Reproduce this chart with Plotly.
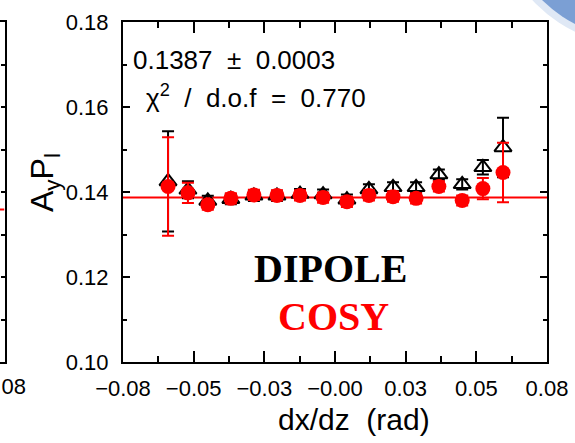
import numpy as np
import plotly.graph_objects as go

# ---- data ----
dxdz = [-0.0630, -0.0555, -0.0480, -0.0393, -0.0306, -0.0219, -0.0132, -0.0045,
        0.0045, 0.0128, 0.0219, 0.0306, 0.0392, 0.0480, 0.0558, 0.0634]

dipole = [0.1425, 0.1405, 0.1379, 0.1383, 0.1391, 0.1391, 0.1395, 0.1394,
          0.1382, 0.1406, 0.1411, 0.1411, 0.1441, 0.1418, 0.1458, 0.1505]
dipole_err = [0.0118, 0.0020, 0.0012, 0.0012, 0.0012, 0.0012, 0.0012, 0.0012,
              0.0012, 0.0012, 0.0012, 0.0012, 0.0012, 0.0012, 0.0017, 0.0070]

cosy = [0.1413, 0.1398, 0.1370, 0.1385, 0.1393, 0.1392, 0.1392, 0.1387,
        0.1377, 0.1392, 0.1389, 0.1385, 0.1413, 0.1380, 0.1408, 0.1446]
cosy_err = [0.0116, 0.0024, 0.0012, 0.0012, 0.0012, 0.0012, 0.0012, 0.0012,
            0.0012, 0.0012, 0.0012, 0.0012, 0.0012, 0.0012, 0.0025, 0.0070]

fit_value = 0.1387
fit_error = 0.0003
chi2_dof = 0.770

# neighbouring panel (only its right edge is in view)
side_fit_value = 0.1359

x_range = [-0.08, 0.08]
y_range = [0.10, 0.18]
x_ticktext = ["\u22120.08", "\u22120.05", "\u22120.03", "\u22120.00", "0.03", "0.05", "0.08"]
side_ticktext = ["0.08"]

# ---- figure ----
W, H = 575, 443
ML, MR, MT, MB = 0, 0, 22, 81
FONT = "Liberation Sans, Arial, sans-serif"
TICK = 22

x_major = list(np.linspace(x_range[0], x_range[1], len(x_ticktext)))
x_minor = [(a + b) / 2 for a, b in zip(x_major[:-1], x_major[1:])]

fig = go.Figure()

# fitted constant
fig.add_trace(go.Scatter(
    x=x_range, y=[fit_value, fit_value], mode="lines",
    line=dict(color="#ff0000", width=2), hoverinfo="skip", showlegend=False,
    xaxis="x", yaxis="y"))

# DIPOLE: open black triangles
fig.add_trace(go.Scatter(
    x=dxdz, y=dipole, mode="markers", name="DIPOLE",
    marker=dict(symbol="triangle-up-open", size=15, color="black",
                line=dict(color="black", width=2)),
    error_y=dict(type="data", array=dipole_err, color="black",
                 thickness=2, width=6),
    showlegend=False, xaxis="x", yaxis="y"))

# COSY: filled red circles
fig.add_trace(go.Scatter(
    x=dxdz, y=cosy, mode="markers", name="COSY",
    marker=dict(symbol="circle", size=15, color="#ff0000",
                line=dict(width=0)),
    error_y=dict(type="data", array=cosy_err, color="#ff0000",
                 thickness=2, width=6),
    showlegend=False, xaxis="x", yaxis="y"))

# neighbouring panel's fit line
fig.add_trace(go.Scatter(
    x=[-0.09, 0.08], y=[side_fit_value, side_fit_value], mode="lines",
    line=dict(color="#ff0000", width=2), hoverinfo="skip", showlegend=False,
    xaxis="x2", yaxis="y2"))

x_lo = 123 / W
x_hi = 547 / W

fig.update_layout(
    width=W, height=H,
    margin=dict(l=ML, r=MR, t=MT, b=MB, pad=0, autoexpand=False),
    paper_bgcolor="white", plot_bgcolor="white",
    font=dict(family=FONT, size=TICK, color="black"),
    xaxis=dict(
        domain=[x_lo, x_hi], range=x_range, anchor="y", automargin=False,
        showline=True, linecolor="black", linewidth=2, mirror="ticks",
        showgrid=False, zeroline=False,
        tickmode="array", tickvals=x_major, ticktext=x_ticktext,
        ticks="inside", ticklen=11, tickwidth=2, tickcolor="black",
        minor=dict(tickvals=x_minor, ticks="inside", ticklen=6,
                   tickwidth=2, tickcolor="black", showgrid=False),
        tickfont=dict(family=FONT, size=TICK, color="black"),
        ticklabelstandoff=6, ticklabeloverflow="allow",
    ),
    yaxis=dict(
        domain=[0, 1], range=y_range, anchor="x", automargin=False,
        showline=True, linecolor="black", linewidth=2, mirror="ticks",
        showgrid=False, zeroline=False,
        dtick=0.02, tick0=0.10, tickformat=".2f",
        ticks="inside", ticklen=7, tickwidth=2, tickcolor="black",
        minor=dict(dtick=0.01, ticks="inside", ticklen=4,
                   tickwidth=2, tickcolor="black", showgrid=False),
        tickfont=dict(family=FONT, size=TICK, color="black"),
        ticklabelstandoff=8, ticklabeloverflow="allow",
    ),
    xaxis2=dict(
        domain=[0, 4.5 / W], range=[-0.09, 0.08], anchor="y2", automargin=False,
        showline=True, linecolor="black", linewidth=2, mirror=True,
        showgrid=False, zeroline=False,
        tickmode="array", tickvals=[0.08], ticktext=side_ticktext,
        ticks="", tickfont=dict(family=FONT, size=TICK, color="black"),
        ticklabelstandoff=4, ticklabeloverflow="allow",
    ),
    yaxis2=dict(
        domain=[0, 1], range=y_range, anchor="x2", side="right", automargin=False,
        showline=True, linecolor="black", linewidth=2,
        showgrid=False, zeroline=False, showticklabels=False,
        dtick=0.01, ticks="inside", ticklen=4, tickwidth=2,
        tickcolor="black",
    ),
)

def px_x(px):
    return (px - ML) / (W - ML - MR)

def px_y(py):
    return (H - MB - py) / (H - MT - MB)

annotations = [
    dict(text=f"{fit_value:.4f} &nbsp;\u00b1&nbsp; {fit_error:.4f}",
         x=px_x(131), y=px_y(60), xanchor="left", yanchor="middle",
         font=dict(family=FONT, size=26)),
    dict(text=f"\u03c7<sup>2</sup> &nbsp;/&nbsp; d.o.f &nbsp;=&nbsp; {chi2_dof:.3f}",
         x=px_x(144), y=px_y(96), xanchor="left", yanchor="middle",
         font=dict(family=FONT, size=26)),
    dict(text="A<sub>y</sub>P<sub>l</sub>", textangle=-90,
         x=px_x(44), y=px_y(183), xanchor="center", yanchor="middle",
         font=dict(family=FONT, size=32)),
    dict(text="dx/dz &nbsp;(rad)",
         x=px_x(354), y=px_y(419), xanchor="center", yanchor="middle",
         font=dict(family=FONT, size=30)),
    dict(text="<b>DIPOLE</b>", x=px_x(330), y=px_y(268),
         xanchor="center", yanchor="middle",
         font=dict(family="Liberation Serif, Times New Roman, serif",
                   size=40, color="black")),
    dict(text="<b>COSY</b>", x=px_x(333), y=px_y(316),
         xanchor="center", yanchor="middle",
         font=dict(family="Liberation Serif, Times New Roman, serif",
                   size=40, color="#ff0000")),
]
for a in annotations:
    a.update(xref="paper", yref="paper", showarrow=False)
fig.update_layout(annotations=annotations)

# decorative disc in the upper-right corner
cx, cy = 640, -100
for r, col in [(147, "#dfe8f5"), (140, "#7b9fd4")]:
    fig.add_shape(type="circle", xref="paper", yref="paper",
                  x0=px_x(cx - r), x1=px_x(cx + r),
                  y0=px_y(cy + r), y1=px_y(cy - r),
                  fillcolor=col, line=dict(width=0), layer="above")

fig.write_html("out.html")
